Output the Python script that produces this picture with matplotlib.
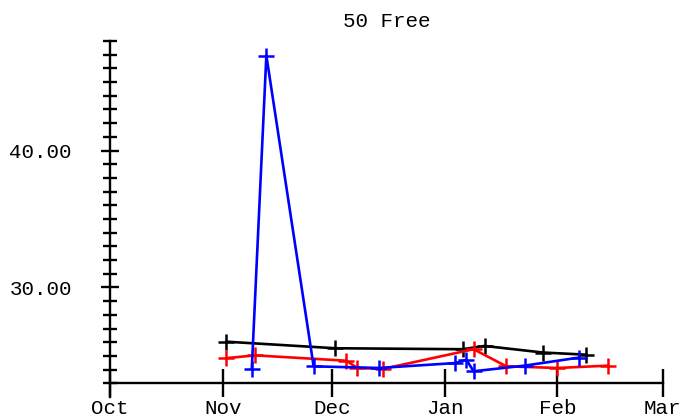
import matplotlib

matplotlib.use("Agg")
import matplotlib.pyplot as plt
import matplotlib.dates as mdates
import numpy as np
from matplotlib.ticker import FixedLocator, FormatStrFormatter, NullFormatter


black_dates = ["2015-11-02", "2015-12-02", "2016-01-06", "2016-01-12", "2016-01-28", "2016-02-09"]
black_times = [26.04, 25.56, 25.49, 25.73, 25.25, 25.09]

red_dates = ["2015-11-02", "2015-11-10", "2015-12-05", "2015-12-08", "2015-12-15",
             "2016-01-09", "2016-01-18", "2016-02-01", "2016-02-15"]
red_times = [24.84, 25.04, 24.65, 24.12, 24.05, 25.49, 24.24, 24.12, 24.29]

blue_dates = ["2015-11-09", "2015-11-13", "2015-11-26", "2015-12-14", "2016-01-04",
              "2016-01-07", "2016-01-09", "2016-01-23", "2016-02-07"]
blue_times = [24.08, 46.94, 24.24, 24.12, 24.48, 24.72, 23.88, 24.29, 24.88]

title = "50 Free"
x_start, x_end = "2015-10-01", "2016-03-01"
y_low, y_high, y_axis_at = 22, 48, 23
y_major = [30, 40]

FONT = "Liberation Mono"

fig = plt.figure(figsize=(6.83, 4.17), dpi=100)
ax = fig.add_axes([110 / 683, 1 - 397 / 417, 552.7 / 683, 356 / 417])

for dates, times, color in [(black_dates, black_times, "black"),
                            (red_dates, red_times, "red"),
                            (blue_dates, blue_times, "blue")]:
    ax.plot(np.array(dates, dtype="datetime64[D]"), times, color=color, lw=1.9,
            marker="+", markersize=11, mew=1.8, clip_on=False)

ax.set_xlim(np.datetime64(x_start), np.datetime64(x_end))
ax.set_ylim(y_low, y_high)

for s in ["top", "right"]:
    ax.spines[s].set_visible(False)
ax.spines["bottom"].set_position(("data", y_axis_at))
ax.spines["left"].set_linewidth(1.7)
ax.spines["bottom"].set_linewidth(1.7)

ax.xaxis.set_major_locator(mdates.MonthLocator())
ax.xaxis.set_major_formatter(mdates.DateFormatter("%b"))
ax.tick_params(axis="x", which="major", direction="inout", length=20, width=1.7, pad=1)
ax.tick_params(axis="x", which="minor", length=0)

ax.yaxis.set_major_locator(FixedLocator(y_major))
ax.yaxis.set_minor_locator(FixedLocator(list(range(y_axis_at, y_high + 1))))
ax.yaxis.set_major_formatter(FormatStrFormatter("%.2f"))
ax.yaxis.set_minor_formatter(NullFormatter())
ax.tick_params(axis="y", which="major", direction="inout", length=13, width=1.7, pad=21)
ax.tick_params(axis="y", which="minor", direction="inout", length=9.5, width=1.7)

for lab in ax.get_xticklabels() + ax.get_yticklabels():
    lab.set_fontfamily(FONT)
    lab.set_fontsize(15)

ax.set_title(title, fontfamily=FONT, fontsize=15, pad=10)

fig.savefig("out.png", dpi=100)
